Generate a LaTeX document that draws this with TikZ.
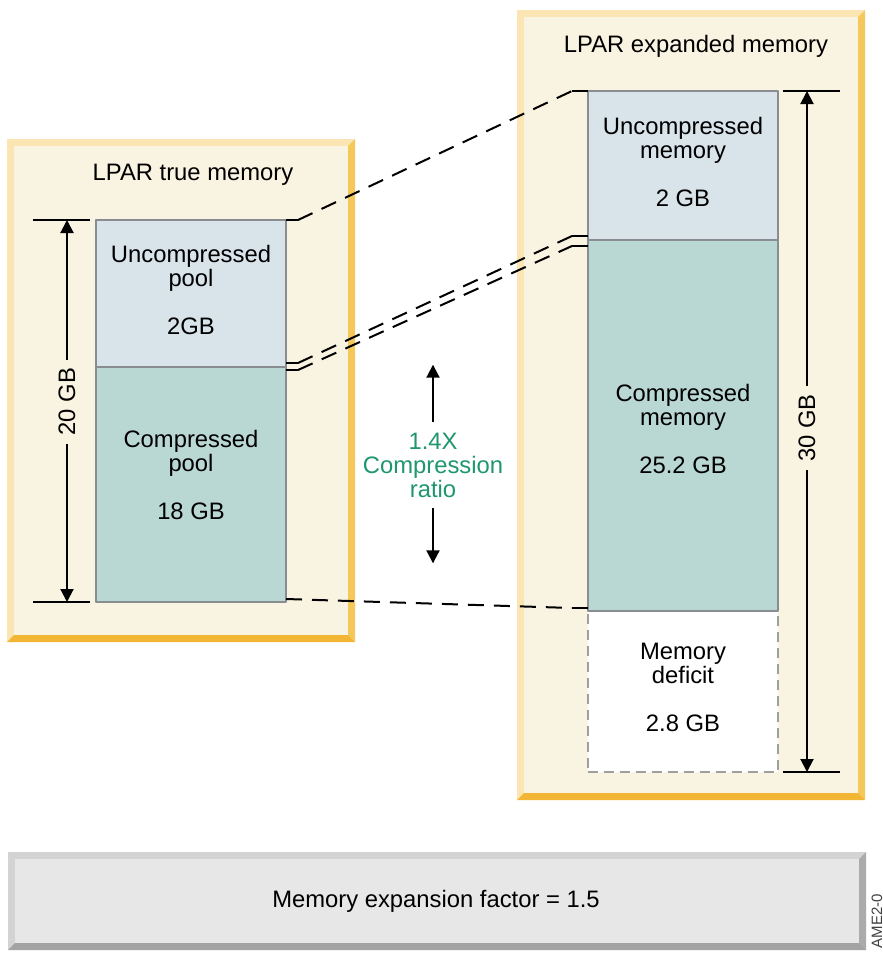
\documentclass[tikz,border=0pt]{standalone}
\usepackage{fontspec}
\setmainfont{Liberation Sans}
\usetikzlibrary{arrows.meta,positioning}
\definecolor{panelfill}{HTML}{F9F3E1}
\definecolor{panellight}{HTML}{FBE5B3}
\definecolor{panelright}{HTML}{F5C85C}
\definecolor{panelbottom}{HTML}{F2B634}
\definecolor{barfill}{HTML}{E7E7E7}
\definecolor{barlight}{HTML}{D3D3D3}
\definecolor{barright}{HTML}{ABABAB}
\definecolor{barbottom}{HTML}{A3A3A3}
\definecolor{unccol}{HTML}{D8E3EA}
\definecolor{compcol}{HTML}{B9D7D3}
\definecolor{edgegray}{HTML}{898C90}
\definecolor{ratiogreen}{RGB}{30,150,110}
% bevelled panel: x1,y1,x2,y2,palette
\newcommand{\bevelbox}[5]{%
  \fill[#5light] (#1,#2) rectangle (#3,#4);
  \fill[#5right] (#3,#2) -- (#3,#4) -- (#3-7,#4-7) -- (#3-7,#2+7) -- cycle;
  \fill[#5bottom] (#1,#4) -- (#3,#4) -- (#3-7,#4-7) -- (#1+7,#4-7) -- cycle;
  \fill[#5fill] (#1+7,#2+7) rectangle (#3-7,#4-7);}
\tikzset{
  block/.style={draw=edgegray, line width=1.2pt, minimum width=95pt, inner sep=0pt, outer sep=0pt},
  blocktext/.style={align=center, inner sep=0pt},
  link/.style={dash pattern=on 8pt off 5pt},
  dim/.style={<->},
  dimlabel/.style={rotate=90, fill=panelfill, inner sep=4pt},
}
\begin{document}
\begin{tikzpicture}[x=0.5pt,y=-0.5pt,line join=round,line width=1pt,
    font=\fontsize{11.9}{12}\selectfont,>={Triangle[length=6.5pt,width=6.5pt]}]
  \useasboundingbox (0,0) rectangle (883,953);
  % panels
  \bevelbox{7}{139}{355}{642}{panel}
  \bevelbox{517}{10}{865}{800}{panel}
  \bevelbox{8}{852}{866}{950}{bar}
  \node[anchor=base] (ltitle) at (193,180) {LPAR true memory};
  \node[anchor=base] (rtitle) at (696,52) {LPAR expanded memory};
  \node (factor) at (436,901) {Memory expansion factor = 1.5};
  \node[rotate=90, font=\fontsize{7.5}{8}\selectfont, text=black!75] (figid) at (877,921) {AME2-0};

  % true memory
  \node[block, fill=unccol, minimum height=73.5pt, anchor=north west] (lunc) at (96,220) {};
  \node[block, fill=compcol, minimum height=117.5pt, below=0pt of lunc] (lcomp) {};
  \node[blocktext, yshift=2pt] (lunctext) at (lunc) {Uncompressed\\pool\\[12pt]2GB};
  \node[blocktext, yshift=5pt] (lcomptext) at (lcomp) {Compressed\\pool\\[12pt]18 GB};

  % expanded memory
  \node[block, fill=unccol, minimum height=74.5pt, anchor=north west] (runc) at (588,91) {};
  \node[block, fill=compcol, minimum height=185.5pt, below=0pt of runc] (rcomp) {};
  \node[block, draw=gray!75, fill=white, dash pattern=on 5pt off 3pt, minimum height=80.5pt, below=0pt of rcomp] (rdef) {};
  \draw[edgegray, line width=1.2pt] (rcomp.south west) -- (rcomp.south east);
  \node[blocktext, yshift=2pt] (frunctext) at (runc) {Uncompressed\\memory\\[12pt]2 GB};
  \node[blocktext, yshift=-1.75pt] (rcomptext) at (rcomp) {Compressed\\memory\\[12pt]25.2 GB};
  \node[blocktext, yshift=2pt] (rdeftext) at (rdef) {Memory\\deficit\\[12pt]2.8 GB};

  % size markers
  \draw ([xshift=-3pt]lunc.north west) -- ++(-57,0);
  \draw ([xshift=-3pt]lcomp.south west) -- ++(-57,0);
  \coordinate (lax) at (67,0);
  \draw[dim] (lax |- lunc.north) -- node[dimlabel, pos=0.476] (lsize) {20 GB} (lax |- lcomp.south);
  \draw ([xshift=2.5pt]runc.north east) -- ++(57,0);
  \draw ([xshift=2.5pt]rdef.south east) -- ++(57,0);
  \coordinate (rax) at (807,0);
  \draw[dim] (rax |- runc.north) -- node[dimlabel, pos=0.495] (rsize) {30 GB} (rax |- rdef.south);

  % links between the two columns
  \draw (lunc.north east) -- ++(12,0) coordinate (a1);
  \draw (runc.north west) -- ++(-16,0) coordinate (b1);
  \draw[link] (a1) -- (b1);
  \draw ([yshift=2pt]lcomp.north east) -- ++(12,0) coordinate (a2);
  \draw ([yshift=2pt]rcomp.north west) -- ++(-16,0) coordinate (b2);
  \draw[link] (a2) -- (b2);
  \draw ([yshift=-1.5pt]lcomp.north east) -- ++(12,0) coordinate (a3);
  \draw ([yshift=-3pt]rcomp.north west) -- ++(-16,0) coordinate (b3);
  \draw[link] (a3) -- (b3);
  \draw ([yshift=1.5pt]rcomp.south west) -- ++(-16,0) coordinate (b4);
  \draw[link] ([yshift=1.5pt]lcomp.south east) -- (b4);

  % ratio
  \node[align=center, text=ratiogreen, inner sep=5pt] (ratio) at (433,465) {1.4X\\Compression\\ratio};
  \draw[->] (ratio.north) -- ++(0,-57);
  \draw[->] (ratio.south) -- ++(0,55);
\end{tikzpicture}
\end{document}
